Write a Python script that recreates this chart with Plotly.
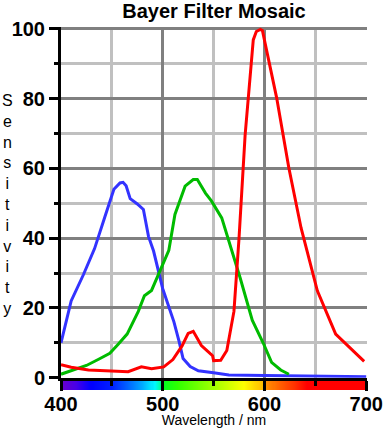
import numpy as np
import plotly.graph_objects as go

# ---- data ----
blue_nm = [400, 410, 422, 433, 443, 452, 458, 461, 464, 468, 475, 481, 486, 491, 500, 505, 511, 516, 520, 527, 535, 550, 565, 600, 650, 700]
blue_val = [10, 22, 29.5, 37, 46, 54, 55.8, 56, 55, 51.3, 49.8, 48.2, 40.5, 36.3, 25.5, 21, 16, 10.5, 5.5, 3.2, 2.0, 1.4, 0.8, 0.6, 0.4, 0.3]

green_nm = [400, 410, 425, 437, 448, 456, 465, 476, 482, 489, 495, 500, 506, 512, 516, 522, 530, 534, 542, 548, 558, 566, 576, 588, 599, 607, 616, 624]
green_val = [1, 2, 3.5, 5.3, 7, 9.5, 12.5, 19, 23.5, 25, 29, 32, 36.5, 46.8, 50.1, 54.9, 56.8, 56.8, 52.9, 50.6, 45.8, 38.2, 28.7, 16.5, 9.8, 4.4, 2.2, 1.0]

red_nm = [400, 410, 427, 450, 466, 479, 489, 501, 510, 519, 525, 530, 538, 547, 549, 550, 557, 563, 570, 575, 581, 589, 592, 596, 598, 603, 612, 624, 636, 652, 670, 698]
red_val = [3.7, 3.0, 2.2, 2.0, 1.7, 3.1, 2.6, 3.1, 5.2, 9.1, 12.7, 13.3, 9.2, 6.8, 6.3, 4.9, 5.0, 7.8, 19, 40, 69.6, 96.8, 99.2, 99.8, 99.5, 92.6, 80.2, 60.1, 42.9, 24.9, 12.5, 4.7]

# visible-spectrum colour stops for the strip under the x axis
spec_nm = [400, 415, 430, 450, 465, 480, 492, 497, 499.99, 500, 515, 535, 555, 570, 580, 590, 599.99, 600, 615, 630, 642, 700]
spec_col = ['#6c00c8', '#4800e8', '#0000ff', '#0020ff', '#0060ff', '#00a8ff', '#00f8ff', '#00ffa0', '#00e850',
            '#00ff20', '#30ff00', '#70ff00', '#b0ff00', '#e0ff00', '#ffff00', '#ffd800', '#ffb800',
            '#ff9800', '#ff6000', '#ff3000', '#ff0000', '#ff0000']

x_ticks = [400, 500, 600, 700]
y_ticks = [0, 20, 40, 60, 80, 100]

FONT = "Liberation Sans"

fig = go.Figure()

# spectrum strip
strip_x = np.arange(400.5, 700, 1.0)
colorscale = [[(n - 400) / 300, c] for n, c in zip(spec_nm, spec_col)]
fig.add_trace(go.Heatmap(x=strip_x, y=[0], z=[list(strip_x)], colorscale=colorscale,
                         zmin=400, zmax=700, showscale=False, hoverinfo='skip',
                         xaxis='x', yaxis='y'))

for xs, ys, col in [(blue_nm, blue_val, '#3333ff'), (green_nm, green_val, '#00bb00'), (red_nm, red_val, '#ff0000')]:
    fig.add_trace(go.Scatter(x=xs, y=ys, mode='lines', line=dict(color=col, width=3),
                             xaxis='x', yaxis='y2', showlegend=False, hoverinfo='skip'))

H_TOP, H_BOT = 27, 38
plot_h = 428 - H_TOP - H_BOT
main_bottom_px = 12.3  # px above plot-area bottom where y=0 sits

fig.update_layout(
    width=383, height=428,
    margin=dict(l=61, r=16, t=H_TOP, b=H_BOT, pad=0, autoexpand=False),
    paper_bgcolor='white', plot_bgcolor='white',
    showlegend=False,
    font=dict(family=FONT, color='black'),
    title=dict(text='<b>Bayer Filter Mosaic</b>', x=0.5, xref='paper', xanchor='center',
               y=0.975, yref='container', yanchor='middle',
               font=dict(size=20, family=FONT, color='black')),
    xaxis=dict(domain=[0, 1], range=[400, 700.8], anchor='y2', automargin=False,
               showline=True, linecolor='black', linewidth=3,
               ticks='outside', tickvals=x_ticks, ticklen=10, tickwidth=3, tickcolor='black',
               minor=dict(dtick=50, tick0=400, ticks='outside', ticklen=5, tickwidth=3, tickcolor='black',
                          showgrid=True, gridcolor='#c0c0c0', gridwidth=3),
               showgrid=True, gridcolor='#808080', gridwidth=3, zeroline=False,
               ticklabelstandoff=-4,
               tickfont=dict(size=20, family=FONT, color='black', weight='bold'),
               title=dict(text='Wavelength / nm', font=dict(size=14, family=FONT, color='black'), standoff=2)),
    yaxis=dict(domain=[0, 12 / plot_h], anchor='x', visible=False, range=[-0.5, 0.5], fixedrange=True,
               automargin=False),
    yaxis2=dict(domain=[main_bottom_px / plot_h, 1], range=[0, 100.5], anchor='x', automargin=False,
                showline=True, linecolor='black', linewidth=3,
                ticks='outside', tickvals=y_ticks, ticklen=9, tickwidth=3, tickcolor='black',
                minor=dict(dtick=10, tick0=0, ticks='outside', ticklen=4, tickwidth=3, tickcolor='black',
                           showgrid=True, gridcolor='#c0c0c0', gridwidth=3),
                showgrid=True, gridcolor='#808080', gridwidth=3, zeroline=False,
                tickfont=dict(size=20, family=FONT, color='black', weight='bold')),
)

fig.add_annotation(text='<br>'.join('Sensitivity'), xref='paper', yref='paper',
                   x=(7.5 - 61) / 305.8, y=(428 - H_BOT - 204) / plot_h,
                   xanchor='center', yanchor='middle', showarrow=False,
                   font=dict(size=16, family=FONT, color='black'))

fig.write_html("out.html", config={'displayModeBar': False},
               post_script="document.body.style.margin='0';document.body.style.overflow='hidden';")
